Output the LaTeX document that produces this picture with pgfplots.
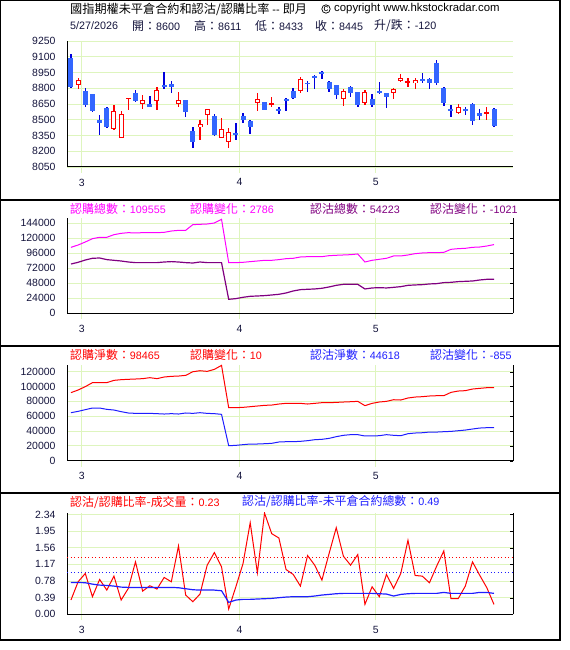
\documentclass[border=0pt]{standalone}
\usepackage{fontspec}
\setmainfont{Liberation Sans}
\newfontfamily\cjk{Noto Sans CJK TC}
\usepackage{pgfplots}
\usepackage{pgfplotstable}
\pgfplotsset{compat=1.18}
\definecolor{gridc}{RGB}{222,245,190}
\definecolor{candleB}{RGB}{51,102,255}
\definecolor{wickB}{RGB}{0,0,220}
\definecolor{redC}{RGB}{255,0,0}
\definecolor{magC}{RGB}{255,0,255}
\definecolor{purC}{RGB}{128,0,128}
\definecolor{bluC}{RGB}{30,30,255}
\definecolor{tickC}{RGB}{20,20,60}

% up (red, hollow) candles: index open high low close
\pgfplotstableread{
i o h l c
1 8829 8895 8791 8880
6 8414 8639 8405 8588
7 8325 8579 8325 8553
8 8696 8709 8595 8709
10 8652 8734 8607 8686
12 8680 8816 8595 8781
15 8648 8766 8620 8686
18 8430 8500 8310 8459
19 8544 8604 8452 8598
21 8325 8515 8325 8414
22 8284 8420 8231 8383
26 8658 8753 8579 8696
28 8645 8721 8626 8658
32 8775 8905 8759 8889
38 8696 8791 8633 8775
41 8664 8785 8645 8766
45 8753 8800 8696 8791
46 8873 8933 8864 8895
47 8857 8895 8816 8870
48 8848 8895 8794 8880
54 8563 8652 8553 8620
58 8563 8626 8493 8569
}\upC
% down (blue, filled) candles
\pgfplotstableread{
i o h l c
0 9085 9127 8800 8816
2 8775 8800 8620 8645
3 8747 8747 8575 8579
4 8500 8547 8354 8465
5 8610 8617 8420 8427
9 8753 8785 8667 8683
11 8648 8724 8626 8626
13 8832 8952 8794 8816
14 8842 8870 8759 8816
16 8686 8686 8522 8569
17 8395 8433 8231 8284
20 8538 8557 8348 8357
23 8376 8468 8303 8351
24 8538 8563 8468 8493
25 8490 8500 8363 8427
27 8671 8671 8591 8591
29 8604 8626 8550 8588
30 8699 8705 8579 8674
31 8775 8800 8696 8709
33 8854 8870 8769 8838
34 8918 8924 8797 8902
35 8956 8968 8886 8940
36 8861 8870 8769 8791
37 8832 8832 8696 8731
39 8810 8823 8721 8753
40 8766 8766 8626 8645
42 8696 8747 8626 8645
43 8775 8861 8743 8759
44 8753 8753 8614 8721
49 8889 8943 8848 8870
50 8889 8895 8791 8854
51 9041 9070 8829 8854
52 8800 8816 8633 8658
53 8604 8639 8522 8579
55 8604 8626 8547 8588
56 8652 8664 8452 8484
57 8563 8601 8493 8531
59 8600 8611 8433 8445
}\downC
% i, call total, put total, call net, put net, P/C volume, P/C OI
\pgfplotstableread{
i cT pT cN pN rV rOI
0 105200 78600 91700 64700 0.334 0.746
1 108900 81300 95300 66500 0.762 0.746
2 113700 85000 99800 68800 0.956 0.739
3 119000 87700 105200 71000 0.412 0.707
4 121200 88200 105200 71000 0.816 0.684
5 121200 85600 105200 69200 0.568 0.676
6 125400 84500 108300 68300 0.894 0.661
7 127500 83400 109200 66100 0.334 0.637
8 128600 81800 109700 64300 0.606 0.630
9 128100 80800 110100 63800 1.228 0.630
10 128600 80800 110600 63800 0.544 0.630
11 128600 80800 111900 63800 0.669 0.630
12 128600 80800 110600 63400 0.591 0.630
13 129100 81800 112800 62900 0.863 0.630
14 131200 82400 113700 63400 0.762 0.630
15 132300 81800 114100 62900 1.601 0.622
16 132300 80800 115000 64300 0.451 0.599
17 141400 80200 119900 63800 0.295 0.575
18 141900 81800 121300 64700 0.474 0.567
19 142400 80800 120400 63800 1.151 0.567
20 144000 80800 123100 63400 1.446 0.567
21 149900 80800 128500 62500 1.112 0.552
22 80800 22300 71500 20200 0.124 0.280
23 80800 23400 71500 20700 0.645 0.334
24 81300 25500 71900 21600 1.189 0.350
25 82400 27100 72800 22500 2.146 0.350
26 83400 27600 73700 22500 0.972 0.358
27 84500 28200 74600 22900 2.370 0.365
28 84500 29200 75000 23400 1.889 0.373
29 85600 30300 76400 25200 1.788 0.389
30 87100 32400 77300 25600 1.049 0.404
31 87700 35600 77300 25600 0.933 0.412
32 89800 37700 77300 26100 0.661 0.412
33 90300 38300 76400 27000 1.376 0.412
34 90300 38800 77300 28300 1.151 0.428
35 90300 39900 78200 28800 0.801 0.451
36 91900 42000 78200 30100 1.423 0.466
37 92500 44600 78600 32400 2.029 0.482
38 93000 46200 79100 34200 1.360 0.490
39 93500 46200 79500 35100 1.151 0.490
40 94600 46200 80000 35100 1.399 0.490
41 81800 38800 74200 33300 0.233 0.490
42 84500 40400 77300 33300 0.645 0.490
43 86100 40900 79100 33700 0.412 0.482
44 87700 40400 80000 35100 0.933 0.474
45 91400 41400 82200 34200 0.606 0.428
46 91400 42500 81800 33700 0.956 0.466
47 93000 44600 84500 36400 1.734 0.482
48 95100 45200 85800 37300 0.910 0.490
49 96200 45700 86300 37700 0.894 0.490
50 96700 46800 87200 38600 0.739 0.490
51 96700 47300 87600 38600 1.127 0.490
52 97200 48900 87600 39100 1.485 0.513
53 102000 49400 92100 39500 0.365 0.490
54 103100 50500 93900 40400 0.365 0.490
55 103600 51000 94400 41300 0.661 0.490
56 105200 51500 96600 42700 1.228 0.490
57 105700 53100 97500 44000 0.917 0.513
58 107300 54200 98400 44500 0.622 0.513
59 109555 54223 98465 44618 0.23 0.49
}\lines

\pgfplotsset{
  common/.style={
    scale only axis, width=446bp, anchor=south west,
    xmin=-0.55, xmax=61.65,
    xtick={1.5,23.5,42.5}, xticklabels={3,4,5},
    grid=major, grid style={gridc, line width=0.8bp},
    axis x line*=bottom,
    axis line style={black, line width=1bp},
    tick label style={font=\fontsize{10.5}{12}\selectfont, text=tickC},
    /pgf/number format/assume math mode=true,
    /pgf/number format/1000 sep={},
    scaled y ticks=false,
    xtick align=outside,
    xtick style={draw=gridc, line width=0.8bp, /pgfplots/major tick length=6bp},
    xticklabel style={yshift=-4bp},
    yticklabel style={xshift=-8bp},
  },
  intlab/.style={yticklabel style={/pgf/number format/fixed, /pgf/number format/precision=0}},
  eb/.style 2 args={draw=none, mark=none, forget plot,
    error bars/.cd, y dir=both, y explicit, error mark=none,
    error bar style={solid, draw=#1, line width=#2}},
}

\newcommand\hd[2]{{\fontsize{12}{13}\selectfont\cjk #1}{\fontsize{10.8}{12}\selectfont #2}}

\begin{document}
\begin{tikzpicture}
\path[use as bounding box] (0,0) rectangle (570bp,650bp);

% ---------- panel 1: candlesticks ----------
\begin{axis}[common, intlab, at={(67bp,483bp)}, height=126bp,
  ymin=8050, ymax=9250, ytick={8050,8200,...,9250},
  axis y line*=left, ytick style={draw=none}]
% up candles
\addplot[eb={redC}{1.2bp}] table[x=i, y expr={(\thisrow{h}+\thisrow{l})/2}, y error expr={(\thisrow{h}-\thisrow{l})/2}]{\upC};
\addplot[eb={redC}{5bp}] table[x=i, y expr={(\thisrow{o}+\thisrow{c})/2}, y error expr={max(abs(\thisrow{c}-\thisrow{o})/2,6)}]{\upC};
\addplot[eb={white}{3bp}] table[x=i, y expr={(\thisrow{o}+\thisrow{c})/2}, y error expr={max(abs(\thisrow{c}-\thisrow{o})/2-9.5,0)}]{\upC};
% down candles
\addplot[eb={wickB}{1.5bp}] table[x=i, y expr={(\thisrow{h}+\thisrow{l})/2}, y error expr={(\thisrow{h}-\thisrow{l})/2}]{\downC};
\addplot[eb={candleB}{5bp}] table[x=i, y expr={(\thisrow{o}+\thisrow{c})/2}, y error expr={max(abs(\thisrow{c}-\thisrow{o})/2,6)}]{\downC};
\end{axis}

% ---------- panel 2: totals ----------
\begin{axis}[common, intlab, at={(67bp,336.7bp)}, height=95bp,
  ymin=0, ymax=151500, ytick={0,24000,48000,72000,96000,120000,144000},
  axis y line*=box, ytick pos=right, yticklabel pos=left,
  ytick style={black, /pgfplots/major tick length=3bp}]
\addplot[magC, line width=1bp] table[x=i, y=cT]{\lines};
\addplot[purC, line width=1.2bp] table[x=i, y=pT]{\lines};
\end{axis}

% ---------- panel 3: net ----------
\begin{axis}[common, intlab, at={(67bp,189.3bp)}, height=95.7bp,
  ymin=0, ymax=129000, ytick={0,20000,40000,60000,80000,100000,120000},
  axis y line*=box, ytick pos=right, yticklabel pos=left,
  ytick style={black, /pgfplots/major tick length=3bp}]
\addplot[redC, line width=1bp] table[x=i, y=cN]{\lines};
\addplot[bluC, line width=1bp] table[x=i, y=pN]{\lines};
\end{axis}

% ---------- panel 4: ratios ----------
\begin{axis}[common, at={(67bp,35.7bp)}, height=101.6bp,
  ymin=0, ymax=2.38, ytick={0,0.39,0.78,1.17,1.56,1.95,2.34},
  yticklabel style={/pgf/number format/fixed, /pgf/number format/fixed zerofill, /pgf/number format/precision=2},
  axis y line*=box, ytick pos=right, yticklabel pos=left,
  ytick style={black, /pgfplots/major tick length=3bp}]
\addplot[redC, line width=0.9bp, dash pattern=on 1bp off 2.5bp] coordinates {(-0.55,1.33) (61.65,1.33)};
\addplot[bluC, line width=0.9bp, dash pattern=on 1bp off 2.5bp] coordinates {(-0.55,0.99) (61.65,0.99)};
\addplot[redC, line width=1bp] table[x=i, y=rV]{\lines};
\addplot[bluC, line width=1.2bp] table[x=i, y=rOI]{\lines};
\end{axis}

% ---------- frame ----------
\draw[line width=1.2bp] (0.6bp,649.4bp) rectangle (560bp,10bp);
\draw[line width=1.2bp] (0.6bp,450bp) -- (560bp,450bp);
\draw[line width=1.2bp] (0.6bp,304bp) -- (560bp,304bp);
\draw[line width=1.2bp] (0.6bp,157bp) -- (560bp,157bp);

% ---------- titles ----------
\node[anchor=west, inner sep=0pt] at (70bp,641bp) {{\fontsize{12.2}{13}\selectfont\cjk 國指期權未平倉合約和認沽/認購比率}{\fontsize{11}{12}\selectfont\ -{}-\ }{\fontsize{12.2}{13}\selectfont\cjk 即月}};
\node[circle, draw, line width=0.7bp, inner sep=0.5bp, font=\fontsize{9.5}{9}\selectfont] at (326bp,641bp) {c};
\node[anchor=west, inner sep=0pt, font=\fontsize{11.4}{12}\selectfont] at (334bp,641bp) {copyright www.hkstockradar.com};
\begin{scope}[every node/.style={anchor=west, inner sep=0pt, text=tickC}]
\node[font=\fontsize{10.8}{12}\selectfont] at (70bp,624bp) {5/27/2026};
\node at (132bp,624bp) {\hd{開：}{8600}};
\node at (194bp,624bp) {\hd{高：}{8611}};
\node at (255bp,624bp) {\hd{低：}{8433}};
\node at (315bp,624bp) {\hd{收：}{8445}};
\node at (374bp,624bp) {\hd{升/跌：}{-120}};
\end{scope}
\begin{scope}[every node/.style={anchor=west, inner sep=0pt}]
\node[text=magC] at (70bp,441.5bp) {\hd{認購總數：}{109555}};
\node[text=magC] at (190bp,441.5bp) {\hd{認購變化：}{2786}};
\node[text=purC] at (310bp,441.5bp) {\hd{認沽總數：}{54223}};
\node[text=purC] at (430bp,441.5bp) {\hd{認沽變化：}{-1021}};
\node[text=redC] at (70bp,295bp) {\hd{認購淨數：}{98465}};
\node[text=redC] at (190bp,295bp) {\hd{認購變化：}{10}};
\node[text=bluC] at (310bp,295bp) {\hd{認沽淨數：}{44618}};
\node[text=bluC] at (430bp,295bp) {\hd{認沽變化：}{-855}};
\node[text=redC] at (70bp,148bp) {\hd{認沽/認購比率-成交量：}{0.23}};
\node[text=bluC] at (242bp,148bp) {\hd{認沽/認購比率-未平倉合約總數：}{0.49}};
\end{scope}
\end{tikzpicture}
\end{document}
